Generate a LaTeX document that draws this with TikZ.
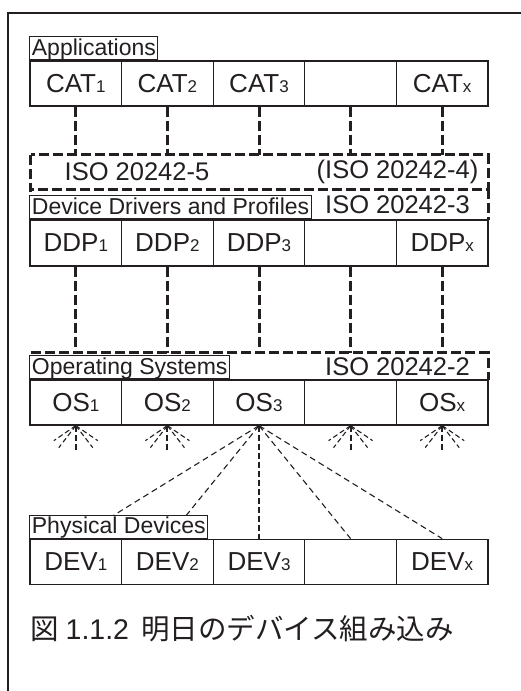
\documentclass[tikz,border=0pt]{standalone}
\usepackage{fontspec}
\setmainfont{Liberation Sans}
\newfontfamily\cjkfont{Noto Sans CJK JP}
\usetikzlibrary{backgrounds}
\definecolor{ink}{HTML}{231F20}
\newcommand\mysub[1]{{\fontsize{17}{17}\selectfont #1}}
\begin{document}
\begin{tikzpicture}[x=1pt,y=-1pt,
  cell/.style={draw=ink, line width=1.3pt, minimum width=91.6pt, minimum height=45pt, inner sep=0pt, text=ink, font=\fontsize{26}{26}\selectfont},
  lbl/.style={draw=ink, line width=1.1pt, fill=white, anchor=south west, inner xsep=2pt, inner ysep=0.25pt, text height=18pt, text depth=4.5pt, text=ink, font=\fontsize{23}{23}\selectfont},
  region/.style={inner sep=0pt, minimum width=457.5pt},
  isotext/.style={inner sep=0pt, text=ink, font=\fontsize{25.5}{25.5}\selectfont},
  thickdash/.style={draw=ink, line width=3pt, dash pattern=on 10pt off 4pt},
  meddash/.style={draw=ink, line width=2pt, dash pattern=on 6pt off 3pt},
  thindash/.style={draw=ink, line width=1.1pt, dash pattern=on 6pt off 4pt},
  burstdash/.style={draw=ink, line width=1.1pt, dash pattern=on 5pt off 3pt},
]
\useasboundingbox (0,0) rectangle (521,691);
\begin{scope}[on background layer]
\fill[white] (0,0) rectangle (521,691);
\end{scope}
% frame
\draw[ink, line width=2pt] (8,691) -- (8,13) -- (521,13);

% Applications row
\node[cell] (cat1) at (75.8,83.5) {CAT\mysub{1}};
\node[cell] (cat2) at (167.4,83.5) {CAT\mysub{2}};
\node[cell] (cat3) at (259,83.5) {CAT\mysub{3}};
\node[cell] (cat4) at (350.6,83.5) {};
\node[cell] (cat5) at (442.2,83.5) {CAT\mysub{x}};
\node[lbl] (applbl) at (cat1.north west) {Applications};

% ISO 20242-5 / -4 region
\node[region, minimum height=34pt] (iso5) at (259.75,172) {};
\draw[thickdash] (iso5.north west) rectangle (iso5.south east);
\node[isotext] (t5) at (137,172) {ISO 20242-5};
\node[isotext] (t4) at (397.5,172) {(ISO 20242-4)};

% DDP row
\node[cell, minimum height=46pt] (ddp1) at (75.8,243) {DDP\mysub{1}};
\node[cell, minimum height=46pt] (ddp2) at (167.4,243) {DDP\mysub{2}};
\node[cell, minimum height=46pt] (ddp3) at (259,243) {DDP\mysub{3}};
\node[cell, minimum height=46pt] (ddp4) at (350.6,243) {};
\node[cell, minimum height=46pt] (ddp5) at (442.2,243) {DDP\mysub{x}};

% ISO 20242-3 region
\node[region, minimum height=31pt] (iso3) at (259.75,204.5) {};
\draw[thickdash] (iso3.south west) -- (iso3.north west);
\draw[thickdash] (iso3.north east) -- (iso3.south east);
\node[lbl] (ddlbl) at (ddp1.north west) {Device Drivers and Profiles};
\node[isotext] (t3) at (397.5,205) {ISO 20242-3};

% CAT -> ISO-5 connectors
\foreach \n in {1,...,5}
  \draw[thickdash] (cat\n.south) -- (cat\n.south |- iso5.north);

% OS row
\node[cell] (os1) at (75.8,402.5) {OS\mysub{1}};
\node[cell] (os2) at (167.4,402.5) {OS\mysub{2}};
\node[cell] (os3) at (259,402.5) {OS\mysub{3}};
\node[cell] (os4) at (350.6,402.5) {};
\node[cell] (os5) at (442.2,402.5) {OS\mysub{x}};

% ISO 20242-2 region
\node[region, minimum height=27pt] (iso2) at (259.75,366.5) {};
\draw[thickdash] (iso2.south west) -- (iso2.north west) -- (iso2.north east) -- (iso2.south east);
\node[lbl] (oslbl) at (os1.north west) {Operating Systems};
\node[isotext] (t2) at (397.5,367) {ISO 20242-2};

% DDP -> ISO-2 connectors
\foreach \n in {1,...,5}
  \draw[thickdash] (ddp\n.south) -- (ddp\n.south |- iso2.north);

% DEV row
\node[cell] (dev1) at (75.8,561.8) {DEV\mysub{1}};
\node[cell] (dev2) at (167.4,561.8) {DEV\mysub{2}};
\node[cell] (dev3) at (259,561.8) {DEV\mysub{3}};
\node[cell] (dev4) at (350.6,561.8) {};
\node[cell] (dev5) at (442.2,561.8) {DEV\mysub{x}};
\node[lbl] (pdlbl) at (dev1.north west) {Physical Devices};

% OS3 -> devices
\begin{scope}[on background layer]
\draw[thindash] (os3.south) -- (dev1.north);
\draw[thindash] (os3.south) -- (dev2.north);
\draw[thindash] (os3.south) -- (dev4.north);
\draw[thindash] (os3.south) -- (dev5.north);
\end{scope}
\draw[meddash] (os3.south) -- (dev3.north);

% bursts under the other OS cells
\foreach \n in {os1,os2,os4,os5}{
  \draw[meddash] (\n.south) -- ++(0,27);
  \draw[burstdash] (\n.south) -- ++(-22,15);
  \draw[burstdash] (\n.south) -- ++(-17,22);
  \draw[burstdash] (\n.south) -- ++(22,15);
  \draw[burstdash] (\n.south) -- ++(17,22);
}

% caption
\node[anchor=base west, inner sep=0pt, text=ink, font=\fontsize{28.5}{28.5}\selectfont] (cap) at (30,639) {{\cjkfont 図}\hspace{7pt}1.1.2\hspace{12pt}{\cjkfont 明日のデバイス組み込み}};
\end{tikzpicture}
\end{document}
